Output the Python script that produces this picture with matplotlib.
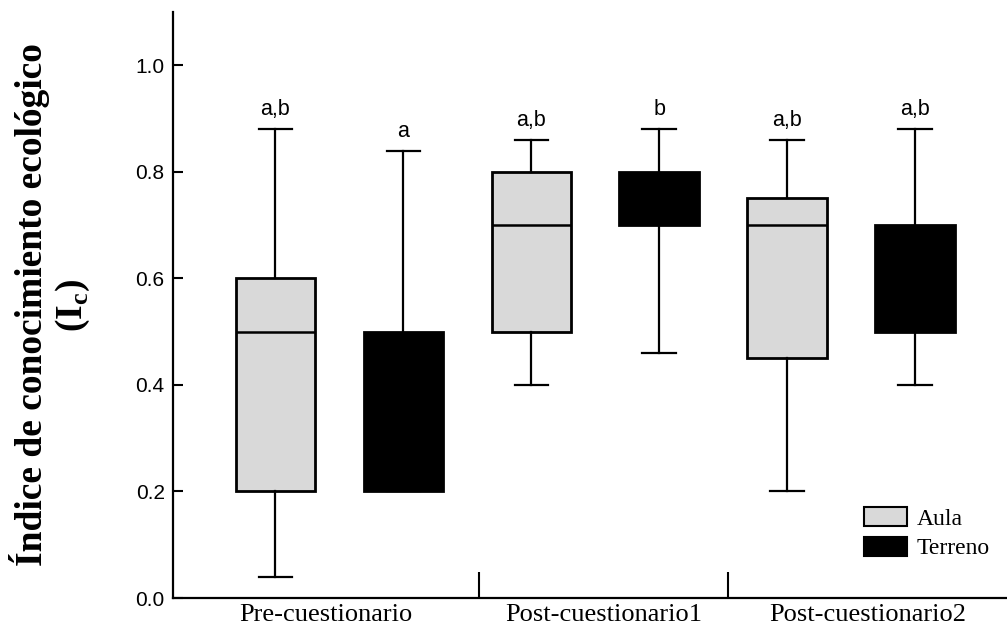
import numpy as np
import matplotlib.pyplot as plt
from matplotlib.patches import Patch

# data (indice de conocimiento ecologico)
groups = ['Pre-cuestionario', 'Post-cuestionario1', 'Post-cuestionario2']

aula_lo = [0.04, 0.40, 0.20]
aula_q1 = [0.20, 0.50, 0.45]
aula_med = [0.50, 0.70, 0.70]
aula_q3 = [0.60, 0.80, 0.75]
aula_hi = [0.88, 0.86, 0.86]
aula_letters = ['a,b', 'a,b', 'a,b']

terreno_lo = [0.20, 0.46, 0.40]
terreno_q1 = [0.20, 0.70, 0.50]
terreno_med = [0.30, 0.75, 0.60]
terreno_q3 = [0.50, 0.80, 0.70]
terreno_hi = [0.84, 0.88, 0.88]
terreno_letters = ['a', 'b', 'a,b']

yticks = [0.0, 0.2, 0.4, 0.6, 0.8, 1.0]

serif = ['Liberation Serif', 'DejaVu Serif']
sans = ['Liberation Sans', 'DejaVu Sans']


def make_stats(lo, q1, med, q3, hi):
    return [dict(whislo=a, q1=b, med=c, q3=d, whishi=e, fliers=[])
            for a, b, c, d, e in zip(lo, q1, med, q3, hi)]


fig = plt.figure(figsize=(10.07, 6.35), dpi=100)
ax = fig.add_axes([173 / 1007, 1 - 598 / 635, 1 - 173 / 1007, (598 - 12) / 635])

n = len(groups)
pos_aula = np.arange(n) * 2 + 1.0
pos_terr = np.arange(n) * 2 + 2.0
width = 0.62
capw = 0.26

line = dict(color='black', linewidth=1.6)

ax.bxp(make_stats(aula_lo, aula_q1, aula_med, aula_q3, aula_hi),
       positions=pos_aula, widths=width, capwidths=capw, patch_artist=True,
       showfliers=False, manage_ticks=False,
       boxprops=dict(facecolor='#d9d9d9', edgecolor='black', linewidth=2),
       medianprops=dict(color='black', linewidth=1.8),
       whiskerprops=line, capprops=line)

ax.bxp(make_stats(terreno_lo, terreno_q1, terreno_med, terreno_q3, terreno_hi),
       positions=pos_terr, widths=width, capwidths=capw, patch_artist=True,
       showfliers=False, manage_ticks=False,
       boxprops=dict(facecolor='black', edgecolor='black', linewidth=2),
       medianprops=dict(color='black', linewidth=1.8),
       whiskerprops=line, capprops=line)

# significance letters above the upper whiskers
for p, h, t in zip(pos_aula, aula_hi, aula_letters):
    ax.annotate(t, (p, h), xytext=(0, 10), textcoords='offset points',
                ha='center', va='baseline', fontsize=15.5, family=sans)
for p, h, t in zip(pos_terr, terreno_hi, terreno_letters):
    ax.annotate(t, (p, h), xytext=(0, 10), textcoords='offset points',
                ha='center', va='baseline', fontsize=15.5, family=sans)

# axes
xmin, xmax = 0.2, 6.72
seps = [2.59, 4.54]
ax.set_xlim(xmin, xmax)
ax.set_ylim(0, 1.1)

for s in ['top', 'right']:
    ax.spines[s].set_visible(False)
for s in ['left', 'bottom']:
    ax.spines[s].set_linewidth(1.6)

ax.set_yticks(yticks)
ax.set_yticklabels(['%.1f' % v for v in yticks], fontsize=15, family=sans)
ax.tick_params(axis='y', direction='in', length=7.5, width=1.5, pad=6)

edges = [xmin] + seps + [xmax]
mids = [(edges[i] + edges[i + 1]) / 2 for i in range(n)]
ax.set_xticks(seps)
ax.set_xticklabels([])
ax.tick_params(axis='x', which='major', direction='in', length=19, width=1.5)
ax.set_xticks(mids, minor=True)
ax.set_xticklabels(groups, minor=True, fontsize=19, family=serif)
ax.tick_params(axis='x', which='minor', length=0, pad=4)

ax.set_ylabel('Índice de conocimiento ecológico\n(I$_\\mathregular{c}$)',
              fontsize=27, fontweight='bold', family=serif, linespacing=1.15)
ax.yaxis.set_label_coords((92 - 173) / 834, 0.5)

handles = [Patch(facecolor='#d9d9d9', edgecolor='black', linewidth=1.5, label='Aula'),
           Patch(facecolor='black', edgecolor='black', linewidth=1.5, label='Terreno')]
ax.legend(handles=handles, loc='upper left', frameon=False,
          bbox_to_anchor=(864 / 1007, 1 - 507 / 635), bbox_transform=fig.transFigure,
          prop=dict(family=serif, size=17), handlelength=1.8, handleheight=0.85,
          handletextpad=0.42, labelspacing=0.3, borderpad=0, borderaxespad=0)

fig.savefig('out.png', dpi=100)
